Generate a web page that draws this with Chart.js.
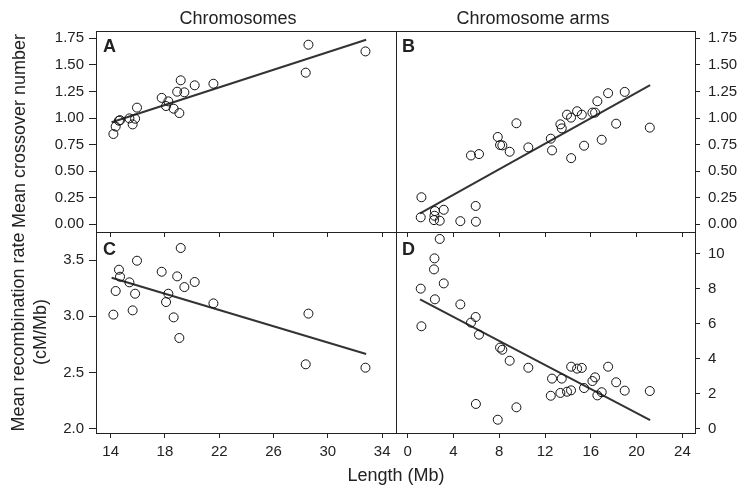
<!DOCTYPE html>
<html>
<head>
<meta charset="utf-8">
<script src="https://cdn.jsdelivr.net/npm/chart.js@4.4.1/dist/chart.umd.min.js"></script>
<style>
  html, body { margin:0; padding:0; background:#fff; }
  #wrap { position:relative; width:739px; height:489px; overflow:hidden; font-family:"Liberation Sans", Arial, sans-serif; color:#222; }
  canvas { position:absolute; left:0; top:0; }
  .t { position:absolute; white-space:nowrap; font-size:18px; line-height:22px; text-align:center; }
  .rot { transform:rotate(-90deg); transform-origin:50% 50%; }
  .L { position:absolute; font-weight:bold; font-size:18px; line-height:18px; color:#222; }
</style>
</head>
<body>
<div id="wrap">
  <canvas id="cA" width="739" height="489"></canvas>
  <canvas id="cB" width="739" height="489"></canvas>
  <canvas id="cC" width="739" height="489"></canvas>
  <canvas id="cD" width="739" height="489"></canvas>
  <div class="t" style="left:138px;top:7px;width:200px;height:22px;">Chromosomes</div>
  <div class="t" style="left:433px;top:7px;width:200px;height:22px;">Chromosome arms</div>
  <div class="t rot" style="left:-131px;top:120px;width:300px;height:22px;">Mean crossover number</div>
  <div class="t rot" style="left:-121px;top:310px;width:300px;height:44px;">Mean recombination rate<br>(cM/Mb)</div>
  <div class="t" style="left:296px;top:464px;width:200px;height:22px;">Length (Mb)</div>
  <div class="L" style="left:103px;top:37px;">A</div>
  <div class="L" style="left:402px;top:37px;">B</div>
  <div class="L" style="left:103px;top:240px;">C</div>
  <div class="L" style="left:402px;top:240px;">D</div>
</div>
<script>
// ---- data ----
const chromLength    = [14.2, 14.37, 14.61, 14.69, 15.38, 15.62, 15.8, 15.94, 17.76, 18.08, 18.25, 18.64, 18.9, 19.06, 19.16, 19.43, 20.19, 21.57, 28.37, 28.57, 32.77];
const chromCrossover = [0.85, 0.92, 0.975, 0.98, 0.997, 0.94, 0.994, 1.098, 1.19, 1.113, 1.157, 1.088, 1.248, 1.047, 1.355, 1.242, 1.308, 1.323, 1.427, 1.69, 1.627];
const chromRate      = [3.015, 3.225, 3.414, 3.352, 3.302, 3.053, 3.201, 3.494, 3.396, 3.127, 3.201, 2.991, 3.355, 2.808, 3.607, 3.26, 3.305, 3.115, 2.574, 3.024, 2.544];

const armLength    = [1.14, 1.2, 2.30, 2.34, 2.38, 2.80, 3.15, 4.60, 5.53, 5.94, 5.96, 6.23, 7.87, 8.07, 8.27, 8.91, 9.50, 10.54, 12.50, 12.61, 13.34, 13.46, 13.92, 14.27, 14.28, 14.80, 15.21, 15.41, 16.14, 16.37, 16.57, 16.95, 17.51, 18.21, 18.96, 21.15];
const armCrossover = [0.066, 0.255, 0.040, 0.081, 0.125, 0.034, 0.137, 0.030, 0.648, 0.173, 0.025, 0.661, 0.822, 0.746, 0.743, 0.683, 0.951, 0.724, 0.806, 0.696, 0.941, 0.903, 1.032, 1.004, 0.623, 1.064, 1.032, 0.740, 1.051, 1.051, 1.158, 0.796, 1.234, 0.947, 1.246, 0.910];
const armRate      = [8.02, 5.87, 9.12, 9.75, 7.41, 10.86, 8.32, 7.12, 6.08, 6.40, 1.43, 5.39, 0.53, 4.65, 4.53, 3.90, 1.24, 3.50, 1.90, 2.88, 2.06, 2.88, 2.13, 2.21, 3.56, 3.45, 3.49, 2.34, 2.74, 2.95, 1.92, 2.10, 3.56, 2.67, 2.19, 2.17];

// fitted lines (end points)
const fitChromLength    = [14.07, 32.82];
const fitChromCrossover = [0.96, 1.737];
const fitChromRate      = [3.343, 2.666];
const fitArmLength      = [1.08, 21.18];
const fitArmCrossover   = [0.104, 1.309];
const fitArmRate        = [7.41, 0.51];

// tick labels
const chromTicks     = [14, 18, 22, 26, 30, 34];
const armTicks       = [0, 4, 8, 12, 16, 20, 24];
const crossoverTicks = [0, 0.25, 0.5, 0.75, 1.0, 1.25, 1.5, 1.75];
const chromRateTicks = [2.0, 2.5, 3.0, 3.5];
const armRateTicks   = [0, 2, 4, 6, 8, 10];

// ---- drawing ----
const FONT = { family: '"Liberation Sans", Arial, sans-serif', size: 15 };
const INK = '#222';

const framePlugin = {
  id: 'frame',
  afterDraw(chart) {
    const a = chart.chartArea, ctx = chart.ctx;
    ctx.save();
    ctx.strokeStyle = INK; ctx.lineWidth = 1;
    ctx.strokeRect(Math.round(a.left) + 0.5, Math.round(a.top) + 0.5, Math.round(a.right - a.left), Math.round(a.bottom - a.top));
    ctx.restore();
  }
};

function pts(xs, ys) { return xs.map((x, i) => ({ x: x, y: ys[i] })); }

function makePanel(id, o) {
  const W = 60;               // y-axis width
  const H = o.xLabels ? 30 : 6; // x-axis height
  const pad = {
    top: o.box.top,
    bottom: 489 - o.box.bottom - H,
    left: o.yPos === 'left' ? o.box.left - W : o.box.left,
    right: o.yPos === 'right' ? 739 - o.box.right - W : 739 - o.box.right
  };
  new Chart(document.getElementById(id), {
    type: 'scatter',
    data: {
      datasets: [
        {
          data: pts(o.xs, o.ys),
          pointStyle: 'circle', pointRadius: 4.5, pointHoverRadius: 4.5,
          borderColor: '#111', borderWidth: 1, backgroundColor: 'rgba(255,255,255,0)',
          showLine: false
        },
        {
          type: 'line',
          data: pts(o.fx, o.fy),
          borderColor: '#333', borderWidth: 2, pointRadius: 0, fill: false, tension: 0
        }
      ]
    },
    options: {
      responsive: false, animation: false, devicePixelRatio: 1,
      layout: { padding: pad },
      plugins: { legend: { display: false }, tooltip: { enabled: false }, title: { display: false } },
      scales: {
        x: {
          type: 'linear', position: 'bottom', min: o.xMin, max: o.xMax,
          afterBuildTicks: s => { s.ticks = o.xTicks.map(v => ({ value: v })); },
          afterFit: s => { s.height = H; },
          grid: { drawOnChartArea: false, drawTicks: true, tickLength: 5, color: INK, tickColor: INK },
          border: { display: false },
          ticks: { display: o.xLabels, font: FONT, color: INK, padding: 5, maxRotation: 0, autoSkip: false,
                   callback: v => String(v) }
        },
        y: {
          type: 'linear', position: o.yPos, min: o.yMin, max: o.yMax,
          afterBuildTicks: s => { s.ticks = o.yTicks.map(v => ({ value: v })); },
          afterFit: s => { s.width = W; },
          grid: { drawOnChartArea: false, drawTicks: true, tickLength: o.yPos === 'left' ? 7 : 5, color: INK, tickColor: INK },
          border: { display: false },
          ticks: { font: FONT, color: INK, padding: o.yPos === 'left' ? 5 : 8, autoSkip: false,
                   callback: v => Number(v).toFixed(o.dec) }
        }
      }
    },
    plugins: [framePlugin]
  });
}

makePanel('cA', { box: { left: 96, top: 31, right: 396, bottom: 232 }, yPos: 'left', xLabels: false,
  xs: chromLength, ys: chromCrossover, fx: fitChromLength, fy: fitChromCrossover,
  xMin: 12.92, xMax: 35.02, yMin: -0.072, yMax: 1.819, xTicks: chromTicks, yTicks: crossoverTicks, dec: 2 });
makePanel('cB', { box: { left: 396, top: 31, right: 695, bottom: 232 }, yPos: 'right', xLabels: false,
  xs: armLength, ys: armCrossover, fx: fitArmLength, fy: fitArmCrossover,
  xMin: -1.02, xMax: 25.1, yMin: -0.072, yMax: 1.819, xTicks: armTicks, yTicks: crossoverTicks, dec: 2 });
makePanel('cC', { box: { left: 96, top: 232, right: 396, bottom: 433 }, yPos: 'left', xLabels: true,
  xs: chromLength, ys: chromRate, fx: fitChromLength, fy: fitChromRate,
  xMin: 12.92, xMax: 35.02, yMin: 1.964, yMax: 3.749, xTicks: chromTicks, yTicks: chromRateTicks, dec: 1 });
makePanel('cD', { box: { left: 396, top: 232, right: 695, bottom: 433 }, yPos: 'right', xLabels: true,
  xs: armLength, ys: armRate, fx: fitArmLength, fy: fitArmRate,
  xMin: -1.02, xMax: 25.1, yMin: -0.229, yMax: 11.257, xTicks: armTicks, yTicks: armRateTicks, dec: 0 });
</script>
</body>
</html>
